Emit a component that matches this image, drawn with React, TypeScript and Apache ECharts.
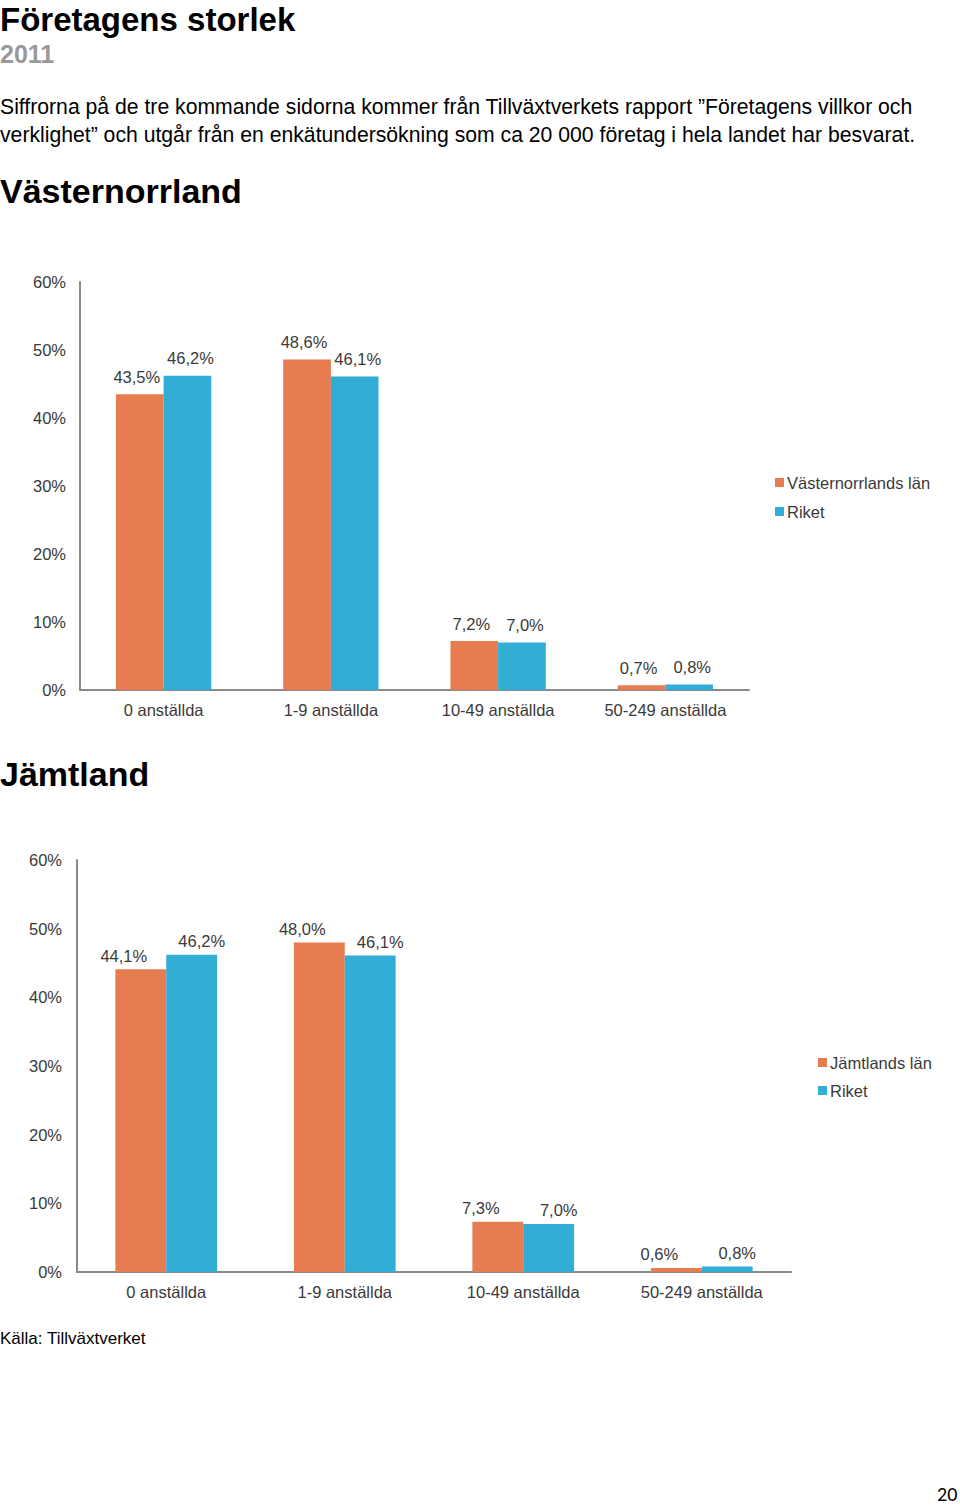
import React, { useEffect, useRef } from "react";
import * as echarts from "echarts";

const categories = ["0 anställda", "1-9 anställda", "10-49 anställda", "50-249 anställda"];
const vasternorrlandLan = [43.5, 48.6, 7.2, 0.7];
const riket1 = [46.2, 46.1, 7.0, 0.8];
const jamtlandLan = [44.1, 48.0, 7.3, 0.6];
const riket2 = [46.2, 46.1, 7.0, 0.8];
const yTicks = { min: 0, max: 60, interval: 10 };

const ORANGE = "#E67C50";
const BLUE = "#31ADD6";
const FONT = "Liberation Sans, Arial, sans-serif";
const LABEL = "#3a3a3a";
const FS = 16.5;

const fmt = (p: any) => Number(p.value).toFixed(1).replace(".", ",") + "%";

export default function App() {
  const ref = useRef<HTMLDivElement>(null);
  useEffect(() => {
    if (!ref.current) return;
    const chart = echarts.init(ref.current, undefined, { renderer: "svg" });
    const xAxisBase = (gridIndex: number) => ({
      type: "category" as const,
      gridIndex,
      data: categories,
      axisLine: { lineStyle: { color: "#8a8a8a", width: 2 } },
      axisTick: { show: false },
      axisLabel: { color: LABEL, fontSize: FS, fontFamily: FONT, margin: 11 },
    });
    const yAxisBase = (gridIndex: number, margin: number) => ({
      type: "value" as const,
      gridIndex,
      min: yTicks.min,
      max: yTicks.max,
      interval: yTicks.interval,
      axisLine: { show: true, lineStyle: { color: "#8a8a8a", width: 2 } },
      axisTick: { show: false },
      splitLine: { show: false },
      axisLabel: { color: LABEL, fontSize: FS, fontFamily: FONT, margin, formatter: "{value}%" },
    });
    const barSeries = (name: string, data: number[], color: string, idx: number, offset: number[], distance: number) => ({
      type: "bar" as const,
      name,
      data,
      xAxisIndex: idx,
      yAxisIndex: idx,
      barGap: "0%",
      barCategoryGap: "43%",
      itemStyle: { color },
      label: {
        show: true,
        position: "top" as const,
        distance,
        offset,
        formatter: fmt,
        color: LABEL,
        fontSize: FS,
        fontFamily: FONT,
      },
    });
    const txt = (text: string, x: number, y: number, font: string, fill = "#000") => ({
      type: "text" as const,
      x,
      y,
      style: { text, font, fill, verticalAlign: "middle", align: "left" },
    });
    chart.setOption({
      animation: false,
      backgroundColor: "#fff",
      graphic: [
        txt("Företagens storlek", 0, 19, `bold 33px ${FONT}`),
        txt("2011", 0, 54, `bold 25px ${FONT}`, "#999999"),
        txt("Siffrorna på de tre kommande sidorna kommer från Tillväxtverkets rapport ”Företagens villkor och", 0, 106, `21.2px ${FONT}`),
        txt("verklighet” och utgår från en enkätundersökning som ca 20 000 företag i hela landet har besvarat.", 0, 134, `21.2px ${FONT}`),
        txt("Västernorrland", 0, 191, `bold 34px ${FONT}`),
        txt("Jämtland", 0, 774, `bold 34px ${FONT}`),
        txt("Källa: Tillväxtverket", 0, 1338, `17px ${FONT}`),
        txt("20", 937, 1494, `20px Carlito, DejaVu Sans, sans-serif`),
      ],
      grid: [
        { left: 80, top: 282, width: 669, height: 408 },
        { left: 77, top: 860, width: 714, height: 412 },
      ],
      xAxis: [xAxisBase(0), xAxisBase(1)],
      yAxis: [yAxisBase(0, 14), yAxisBase(1, 15)],
      legend: [
        {
          data: ["Västernorrlands län", "Riket "],
          orient: "vertical",
          left: 770,
          top: 469,
          itemWidth: 9,
          itemHeight: 9,
          itemGap: 12,
          icon: "rect",
          textStyle: { color: LABEL, fontSize: FS, fontFamily: FONT, padding: [0, 0, 0, -2] },
        },
        {
          data: ["Jämtlands län", "Riket"],
          orient: "vertical",
          left: 813,
          top: 1049,
          itemWidth: 9,
          itemHeight: 9,
          itemGap: 11,
          icon: "rect",
          textStyle: { color: LABEL, fontSize: FS, fontFamily: FONT, padding: [0, 0, 0, -2] },
        },
      ],
      series: [
        barSeries("Västernorrlands län", vasternorrlandLan, ORANGE, 0, [-3, 0], 9),
        barSeries("Riket ", riket1, BLUE, 0, [3, 0], 9),
        barSeries("Jämtlands län", jamtlandLan, ORANGE, 1, [-17, 0], 5),
        barSeries("Riket", riket2, BLUE, 1, [10, 0], 5),
      ],
    });
    return () => chart.dispose();
  }, []);
  return <div ref={ref} style={{ position: "absolute", left: 0, top: 0, width: 960, height: 1505 }} />;
}
